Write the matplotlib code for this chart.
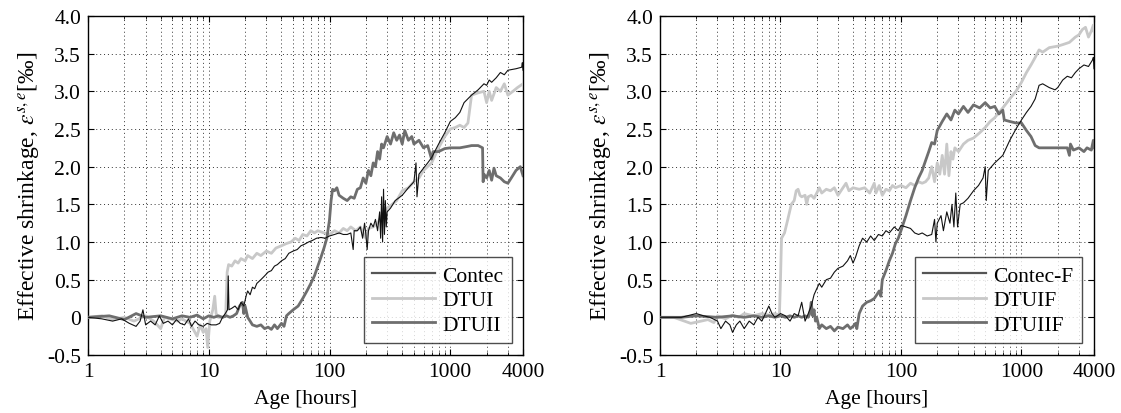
import matplotlib
matplotlib.use("Agg")
import matplotlib.pyplot as plt
from matplotlib.lines import Line2D
from matplotlib.ticker import FixedLocator, FixedFormatter, NullFormatter

plt.rcParams['font.family'] = ['Liberation Serif', 'DejaVu Serif']
plt.rcParams['mathtext.fontset'] = 'stix'

# ---------------- Left panel data ----------------
contec_x = [1, 1.3, 1.6, 1.9, 2.2, 2.5, 2.7, 2.85, 3.0, 3.3, 3.6, 3.9, 4.2, 4.6, 5.0, 5.4, 5.8, 6.3, 6.8, 7.2,
            7.7, 8.3, 9.0, 9.7, 10.5, 11.5, 12.3, 13.0, 13.7, 14.3, 14.5, 14.7, 15.5, 16.5, 17.5, 18.5, 19.5,
            20.5, 21, 22, 23, 24, 25, 27, 29, 31, 33, 35, 37, 40, 43, 46, 50, 54, 58, 62, 67, 72, 78, 85, 92,
            100, 110, 120, 130, 140, 150, 157, 160, 170, 180, 188, 195, 200, 205, 210, 220, 230, 240, 250,
            260, 265, 270, 275, 280, 285, 290, 295, 300, 320, 350, 400, 450, 500, 520, 530, 550, 600, 650,
            700, 800, 900, 1000, 1100, 1200, 1300, 1500, 1700, 1900, 2000, 2100, 2200, 2400, 2600, 2800,
            3000, 3500, 3900, 3950, 4000]
contec_y = [0, -0.02, -0.05, -0.02, -0.08, -0.12, -0.05, 0.1, -0.1, -0.05, -0.1, 0.02, -0.08, -0.05, -0.1,
            -0.03, -0.08, -0.1, -0.02, -0.12, -0.05, -0.1, -0.12, -0.08, -0.1, -0.1, -0.08, 0.0, 0.05, 0.1,
            0.55, 0.1, 0.12, 0.15, 0.1, 0.2, 0.15, 0.3, 0.35, 0.3, 0.4, 0.38, 0.45, 0.5, 0.55, 0.6, 0.62,
            0.68, 0.7, 0.75, 0.78, 0.85, 0.88, 0.9, 0.95, 0.97, 1.0, 1.02, 1.05, 1.06, 1.05, 1.08, 1.1, 1.12,
            1.1, 1.1, 1.12, 0.9, 1.15, 1.15, 1.2, 1.05, 1.25, 1.1, 0.9, 1.15, 1.25, 1.2, 1.3, 1.15, 1.4,
            1.05, 1.6, 1.0, 1.7, 1.1, 1.55, 1.2, 1.4, 1.45, 1.55, 1.62, 1.72, 1.8, 2.05, 1.6, 1.9, 1.98,
            2.05, 2.12, 2.3, 2.45, 2.6, 2.65, 2.72, 2.85, 2.95, 3.02, 3.1, 3.08, 3.15, 3.12, 3.18, 3.25,
            3.22, 3.28, 3.3, 3.32, 3.38, 3.28]

dtui_x = [1, 1.3, 1.6, 2.0, 2.4, 3.0, 3.5, 4.0, 4.3, 5.0, 5.5, 6.0, 7.0, 8.0, 8.5, 9.0, 9.5, 9.8, 10.2, 10.8,
          11.2, 11.5, 12, 13, 13.8, 14.2, 14.6, 15.5, 16.5, 17.5, 18.5, 20, 21, 23, 25, 27, 30, 33, 36, 40,
          44, 48, 52, 56, 60, 65, 70, 75, 80, 90, 100, 110, 120, 130, 140, 150, 165, 180, 200, 210, 230,
          250, 270, 300, 330, 360, 400, 450, 500, 550, 600, 700, 800, 900, 1000, 1100, 1200, 1300, 1400,
          1500, 1700, 1900, 2000, 2100, 2200, 2400, 2600, 2800, 3000, 3300, 3600, 4000]
dtui_y = [0, 0.02, -0.03, 0.0, -0.05, 0.02, -0.05, -0.15, 0.0, -0.03, -0.05, -0.02, -0.08, -0.25, -0.1,
          -0.2, -0.15, -0.4, -0.05, 0.1, 0.28, 0.05, 0.0, 0.0, 0.02, 0.6, 0.7, 0.68, 0.75, 0.72, 0.78,
          0.75, 0.82, 0.78, 0.85, 0.82, 0.88, 0.85, 0.92, 0.95, 0.98, 1.0, 1.05, 1.02, 1.1, 1.08, 1.15,
          1.12, 1.15, 1.12, 1.1, 1.15, 1.12, 1.18, 1.15, 1.2, 1.15, 1.2, 1.05, 1.18, 1.2, 1.25, 1.35,
          1.45, 1.5, 1.55, 1.68, 1.72, 1.8, 1.85, 1.95, 2.05, 2.25, 2.4, 2.5, 2.52, 2.55, 2.52, 2.58,
          2.95, 2.98, 3.0, 2.85, 3.0, 2.88, 3.05, 3.0, 3.1, 2.95, 3.0, 3.05, 3.1]

dtuii_x = [1, 1.5, 2, 2.5, 3, 4, 5, 6, 7, 8, 9, 10, 11, 12, 13, 14, 15, 16, 17, 18, 19, 19.5, 20, 21, 22,
           23, 25, 27, 29, 31, 33, 35, 37, 40, 42, 44, 46, 50, 55, 60, 65, 70, 75, 80, 85, 90, 95, 100,
           103, 106, 110, 115, 120, 130, 140, 150, 160, 170, 180, 190, 200, 210, 220, 230, 240, 250, 260,
           270, 280, 300, 320, 340, 360, 380, 400, 420, 450, 480, 500, 550, 600, 650, 700, 720, 800, 900,
           1000, 1200, 1400, 1500, 1700, 1850, 1870, 1900, 2000, 2100, 2200, 2300, 2400, 2600, 2800,
           3000, 3200, 3500, 3800, 4000]
dtuii_y = [0, 0.02, -0.03, 0.05, 0.0, 0.02, -0.02, 0.02, 0.0, 0.03, -0.02, 0.02, 0.0, 0.02, 0.0, 0.02,
           0.0, 0.02, 0.05, 0.15, 0.2, 0.05, 0.15, 0.0, -0.05, -0.1, -0.12, -0.1, -0.15, -0.13, -0.16,
           -0.1, -0.15, -0.08, -0.12, 0.02, 0.05, 0.1, 0.15, 0.25, 0.35, 0.45, 0.55, 0.68, 0.8, 0.92,
           1.05, 1.3, 1.55, 1.7, 1.68, 1.72, 1.62, 1.58, 1.55, 1.6, 1.58, 1.7, 1.72, 1.85, 1.78, 1.95,
           1.88, 2.05, 2.0, 2.2, 2.1, 2.3, 2.25, 2.4, 2.3, 2.45, 2.35, 2.42, 2.3, 2.48, 2.35, 2.4, 2.3,
           2.35, 2.25, 2.28, 2.1, 2.2, 2.2, 2.24, 2.25, 2.25, 2.27, 2.28, 2.28, 2.25, 1.8, 1.9, 1.85,
           1.95, 1.82, 1.98, 1.88, 1.85, 1.8, 1.78, 1.85, 1.95, 2.0, 1.88]

# ---------------- Right panel data ----------------
contecf_x = [1, 1.5, 2.0, 2.3, 2.6, 3.0, 3.2, 3.5, 3.8, 4.0, 4.3, 4.6, 5.0, 5.5, 6.0, 6.5, 7.0, 7.5, 8.0,
             8.5, 9.0, 10, 11, 12, 13, 14, 15, 16, 17, 18, 19, 20, 21, 22, 24, 26, 28, 30, 33, 36, 38, 40,
             42, 45, 48, 52, 56, 60, 65, 70, 75, 80, 88, 95, 100, 110, 120, 130, 140, 150, 165, 180, 190,
             195, 200, 215, 225, 240, 255, 265, 275, 285, 295, 310, 330, 360, 400, 440, 480, 500, 510,
             530, 600, 700, 800, 900, 1000, 1100, 1200, 1300, 1400, 1500, 1700, 1900, 2000, 2200, 2400,
             2600, 2800, 3000, 3300, 3600, 3900, 3950, 4000]
contecf_y = [0, 0.0, 0.05, 0.02, 0.0, -0.05, -0.15, -0.05, -0.1, -0.2, -0.1, -0.05, -0.15, -0.05, -0.1,
             0.0, -0.05, 0.05, 0.15, 0.05, 0.0, 0.05, 0.02, -0.05, 0.05, 0.02, 0.2, -0.05, 0.05, 0.15,
             0.3, 0.38, 0.45, 0.4, 0.5, 0.52, 0.6, 0.65, 0.68, 0.75, 0.82, 0.72, 0.8, 0.95, 1.05, 1.0,
             1.08, 1.02, 1.1, 1.08, 1.15, 1.12, 1.2, 1.15, 1.22, 1.2, 1.18, 1.12, 1.1, 1.12, 1.08, 1.1,
             1.3, 1.0, 1.25, 1.35, 1.15, 1.4, 1.25, 1.5, 1.2, 1.65, 1.2, 1.5, 1.52, 1.58, 1.68, 1.75,
             1.85, 2.0, 1.55, 1.95, 2.05, 2.15, 2.35, 2.5, 2.62, 2.72, 2.8, 2.9, 3.08, 3.1, 3.05, 3.02,
             3.05, 3.15, 3.2, 3.18, 3.25, 3.3, 3.35, 3.33, 3.42, 3.45, 3.3]

dtuif_x = [1, 1.3, 1.8, 2.2, 2.5, 2.8, 3.0, 3.5, 4.0, 4.5, 5, 6, 7, 8, 9, 9.8, 10.0, 10.2, 10.8, 11.5,
           12.3, 13.0, 13.5, 14, 14.5, 15, 16, 16.5, 17, 18, 19, 20, 21, 22, 24, 26, 28, 30, 33, 35, 37,
           40, 45, 50, 55, 60, 62, 66, 70, 75, 80, 85, 90, 100, 110, 120, 130, 140, 150, 160, 170, 180,
           190, 200, 210, 220, 230, 240, 250, 260, 270, 280, 300, 330, 360, 400, 450, 500, 550, 600, 700,
           800, 900, 1000, 1100, 1200, 1300, 1400, 1500, 1700, 2000, 2200, 2500, 2800, 3000, 3200, 3400,
           3600, 3800, 3950, 4000]
dtuif_y = [0, 0.0, -0.08, -0.05, -0.03, -0.07, 0.02, -0.02, 0.03, 0.0, 0.05, 0.02, 0.05, 0.03, 0.05,
           0.03, 0.5, 1.05, 1.12, 1.3, 1.5, 1.55, 1.68, 1.7, 1.62, 1.6, 1.62, 1.5, 1.6, 1.62, 1.58, 1.65,
           1.72, 1.65, 1.7, 1.68, 1.72, 1.62, 1.72, 1.78, 1.68, 1.72, 1.7, 1.72, 1.65, 1.78, 1.65, 1.75,
           1.62, 1.7, 1.68, 1.75, 1.72, 1.75, 1.72, 1.78, 1.75, 1.8, 1.78, 1.8, 1.85, 2.0, 1.8, 2.05,
           1.9, 2.15, 1.9, 2.3, 1.88, 2.2, 2.1, 2.25, 2.2, 2.3, 2.35, 2.38, 2.45, 2.52, 2.6, 2.65, 2.78,
           2.9, 3.0, 3.12, 3.25, 3.35, 3.45, 3.55, 3.52, 3.58, 3.6, 3.62, 3.65, 3.72, 3.75, 3.82, 3.85,
           3.72, 3.8, 3.88, 3.8]

dtuiif_x = [1, 1.5, 2, 3, 4, 5, 6, 7, 8, 9, 10, 11, 12, 13, 14, 15, 16, 17, 17.5, 18, 18.5, 19, 19.5,
            20, 21, 22, 24, 26, 28, 30, 33, 36, 38, 40, 42, 43, 45, 48, 52, 56, 60, 63, 66, 68, 70, 75,
            80, 85, 90, 95, 100, 110, 120, 130, 140, 150, 160, 170, 180, 190, 200, 220, 240, 260, 280,
            300, 330, 360, 400, 450, 500, 550, 600, 650, 700, 720, 800, 900, 1000, 1100, 1200, 1300,
            1400, 1600, 2000, 2400, 2500, 2550, 2700, 3000, 3300, 3500, 3800, 3950, 4000]
dtuiif_y = [0, 0.0, 0.02, 0.0, 0.02, 0.0, 0.02, 0.0, 0.02, 0.0, 0.02, 0.0, 0.02, 0.0, 0.02, 0.0, 0.02,
            0.0, 0.05, 0.2, 0.02, 0.1, -0.05, 0.0, -0.15, -0.1, -0.15, -0.12, -0.18, -0.13, -0.15, -0.1,
            -0.15, -0.12, -0.08, -0.15, 0.05, 0.15, 0.2, 0.22, 0.25, 0.3, 0.35, 0.28, 0.5, 0.62, 0.75,
            0.85, 0.98, 1.05, 1.15, 1.35, 1.55, 1.72, 1.85, 1.95, 2.08, 2.2, 2.32, 2.3, 2.48, 2.6, 2.7,
            2.62, 2.75, 2.7, 2.8, 2.72, 2.82, 2.78, 2.85, 2.78, 2.8, 2.7, 2.75, 2.62, 2.6, 2.58, 2.58,
            2.48, 2.4, 2.28, 2.25, 2.25, 2.25, 2.25, 2.15, 2.3, 2.22, 2.25, 2.2, 2.25, 2.22, 2.35, 2.25]

xtick_vals = [1, 10, 100, 1000, 4000]
xtick_labels = ['1', '10', '100', '1000', '4000']
ytick_vals = [-0.5, 0, 0.5, 1.0, 1.5, 2.0, 2.5, 3.0, 3.5, 4.0]
ytick_labels = ['-0.5', '0', '0.5', '1.0', '1.5', '2.0', '2.5', '3.0', '3.5', '4.0']
minor_vals = [m * d for d in (1, 10, 100) for m in range(2, 10)] + [2000, 3000]

left_names = ['Contec', 'DTUI', 'DTUII']
right_names = ['Contec-F', 'DTUIF', 'DTUIIF']

C_BLACK = '#111111'
C_LIGHT = '#c8c8c8'
C_DARK = '#6e6e6e'
FS = 15.5

fig = plt.figure(figsize=(11.21, 4.14), dpi=100)
ax1 = fig.add_axes([88 / 1121, 58 / 414, 435 / 1121, 339 / 414])
ax2 = fig.add_axes([660 / 1121, 58 / 414, 434 / 1121, 339 / 414])


def style(ax, series, names, leg_x):
    (cx, cy), (lx, ly), (dx, dy) = series
    ax.plot(lx, ly, color=C_LIGHT, lw=2.0, zorder=3)
    ax.plot(dx, dy, color=C_DARK, lw=2.0, zorder=4)
    ax.plot(cx, cy, color=C_BLACK, lw=0.8, zorder=5)
    ax.set_xscale('log')
    ax.set_xlim(1, 4000)
    ax.set_ylim(-0.5, 4.0)
    ax.xaxis.set_major_locator(FixedLocator(xtick_vals))
    ax.xaxis.set_major_formatter(FixedFormatter(xtick_labels))
    ax.xaxis.set_minor_locator(FixedLocator(minor_vals))
    ax.xaxis.set_minor_formatter(NullFormatter())
    ax.yaxis.set_major_locator(FixedLocator(ytick_vals))
    ax.yaxis.set_major_formatter(FixedFormatter(ytick_labels))
    ax.tick_params(which='both', direction='in', top=True, right=True, labelsize=FS)
    ax.tick_params(which='major', length=4, width=0.8, pad=5)
    ax.tick_params(which='minor', length=2, width=0.6)
    ax.grid(True, which='both', axis='x', color='#333333', lw=0.7, linestyle=(0, (1, 3)))
    ax.grid(True, which='major', axis='y', color='#333333', lw=0.7, linestyle=(0, (1, 3)))
    for s in ax.spines.values():
        s.set_linewidth(1.0)
    ax.set_xlabel('Age [hours]', fontsize=FS, labelpad=6)
    ax.set_ylabel(r'Effective shrinkage, $\varepsilon^{s,e}$[‰]', fontsize=17, labelpad=3)
    handles = [Line2D([], [], color='#555555', lw=1.6),
               Line2D([], [], color=C_LIGHT, lw=2.0),
               Line2D([], [], color=C_DARK, lw=2.0)]
    leg = ax.legend(handles, names, loc='lower right', bbox_to_anchor=(leg_x, 0.035),
                    fontsize=FS, frameon=True, fancybox=False, handlelength=2.9,
                    handletextpad=0.35, labelspacing=0.2, borderpad=0.4, borderaxespad=0.0)
    leg.get_frame().set_edgecolor('#222222')
    leg.get_frame().set_linewidth(1.0)
    leg.set_zorder(10)


style(ax1, [(contec_x, contec_y), (dtui_x, dtui_y), (dtuii_x, dtuii_y)], left_names, 0.975)
style(ax2, [(contecf_x, contecf_y), (dtuif_x, dtuif_y), (dtuiif_x, dtuiif_y)], right_names, 0.972)

fig.savefig('out.png', dpi=100)
